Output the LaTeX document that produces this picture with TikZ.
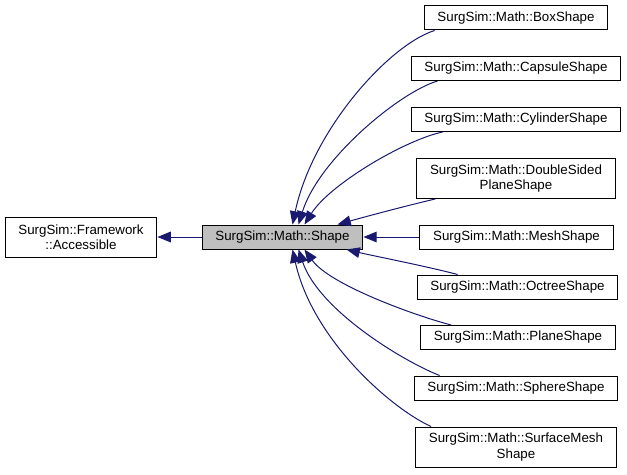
\documentclass[tikz,border=0pt]{standalone}
\usepackage{fontspec}
\setmainfont{Liberation Sans}
\usepackage{tikz}
\usetikzlibrary{arrows.meta,calc}
\definecolor{edgeblue}{RGB}{25,25,112}
\definecolor{basegray}{RGB}{191,191,191}

\begin{document}
\begin{tikzpicture}[x=0.75pt,y=-0.75pt,line width=0.75pt,
	cls/.style={draw=black,fill=white,rectangle,align=center,inner xsep=10pt,inner ysep=0pt,
		minimum height=18pt,font=\fontsize{10}{11.5}\selectfont},
	twoline/.style={cls,minimum height=30pt},
	base/.style={cls,fill=basegray},
	inh/.style={edgeblue,-{Triangle[length=10pt,width=8pt]}}]
			%%Location
			\useasboundingbox (0,0) rectangle (627,474);
			%%Base classes
			\node[twoline] (acc) at (81,237) {SurgSim::Framework\\::Accessible};
			\node[base] (shape) at (282.5,237) {SurgSim::Math::Shape};
			%%Derived shapes
			\node[cls] (box) at (516,18) {SurgSim::Math::BoxShape};
			\node[cls] (capsule) at (516,68.5) {SurgSim::Math::CapsuleShape};
			\node[cls] (cylinder) at (516,119.5) {SurgSim::Math::CylinderShape};
			\node[twoline] (dsplane) at (516,178.5) {SurgSim::Math::DoubleSided\\PlaneShape};
			\node[cls] (mesh) at (516.5,237) {SurgSim::Math::MeshShape};
			\node[cls] (octree) at (517.5,287) {SurgSim::Math::OctreeShape};
			\node[cls] (plane) at (518,337.5) {SurgSim::Math::PlaneShape};
			\node[cls] (sphere) at (516,388) {SurgSim::Math::SphereShape};
			\node[twoline] (surfmesh) at (516,447) {SurgSim::Math::SurfaceMesh\\Shape};
			
			%%Inheritance
			\draw[inh] (shape.west) -- (acc.east);
			\draw[inh] ($(box.south west)+(11,0)$) .. controls +(-45,14) and +(20,-95) .. ($(shape.north)+(10,0)$);
			\draw[inh] ($(capsule.south west)+(27,0)$) .. controls +(-38,11) and +(20,-65) .. ($(shape.north)+(16,0)$);
			\draw[inh] ($(cylinder.south west)+(32,0)$) .. controls +(-38,8) and +(25,-40) .. ($(shape.north)+(22,0)$);
			\draw[inh] ($(dsplane.south west)+(19,0)$) .. controls +(-30,7) and +(25,-7) .. ($(shape.north)+(55,0)$);
			\draw[inh] (mesh.west) -- (shape.east);
			\draw[inh] ($(octree.north west)+(41,0)$) .. controls +(-30,-8) and +(25,6) .. ($(shape.south)+(64,0)$);
			\draw[inh] ($(plane.north west)+(31,0)$) .. controls +(-38,-10) and +(25,35) .. ($(shape.south)+(22,0)$);
			\draw[inh] ($(sphere.north west)+(26,0)$) .. controls +(-38,-15) and +(20,60) .. ($(shape.south)+(16,0)$);
			\draw[inh] ($(surfmesh.north west)+(16,0)$) .. controls +(-40,-18) and +(20,90) .. ($(shape.south)+(10,0)$);
\end{tikzpicture}
\end{document}
